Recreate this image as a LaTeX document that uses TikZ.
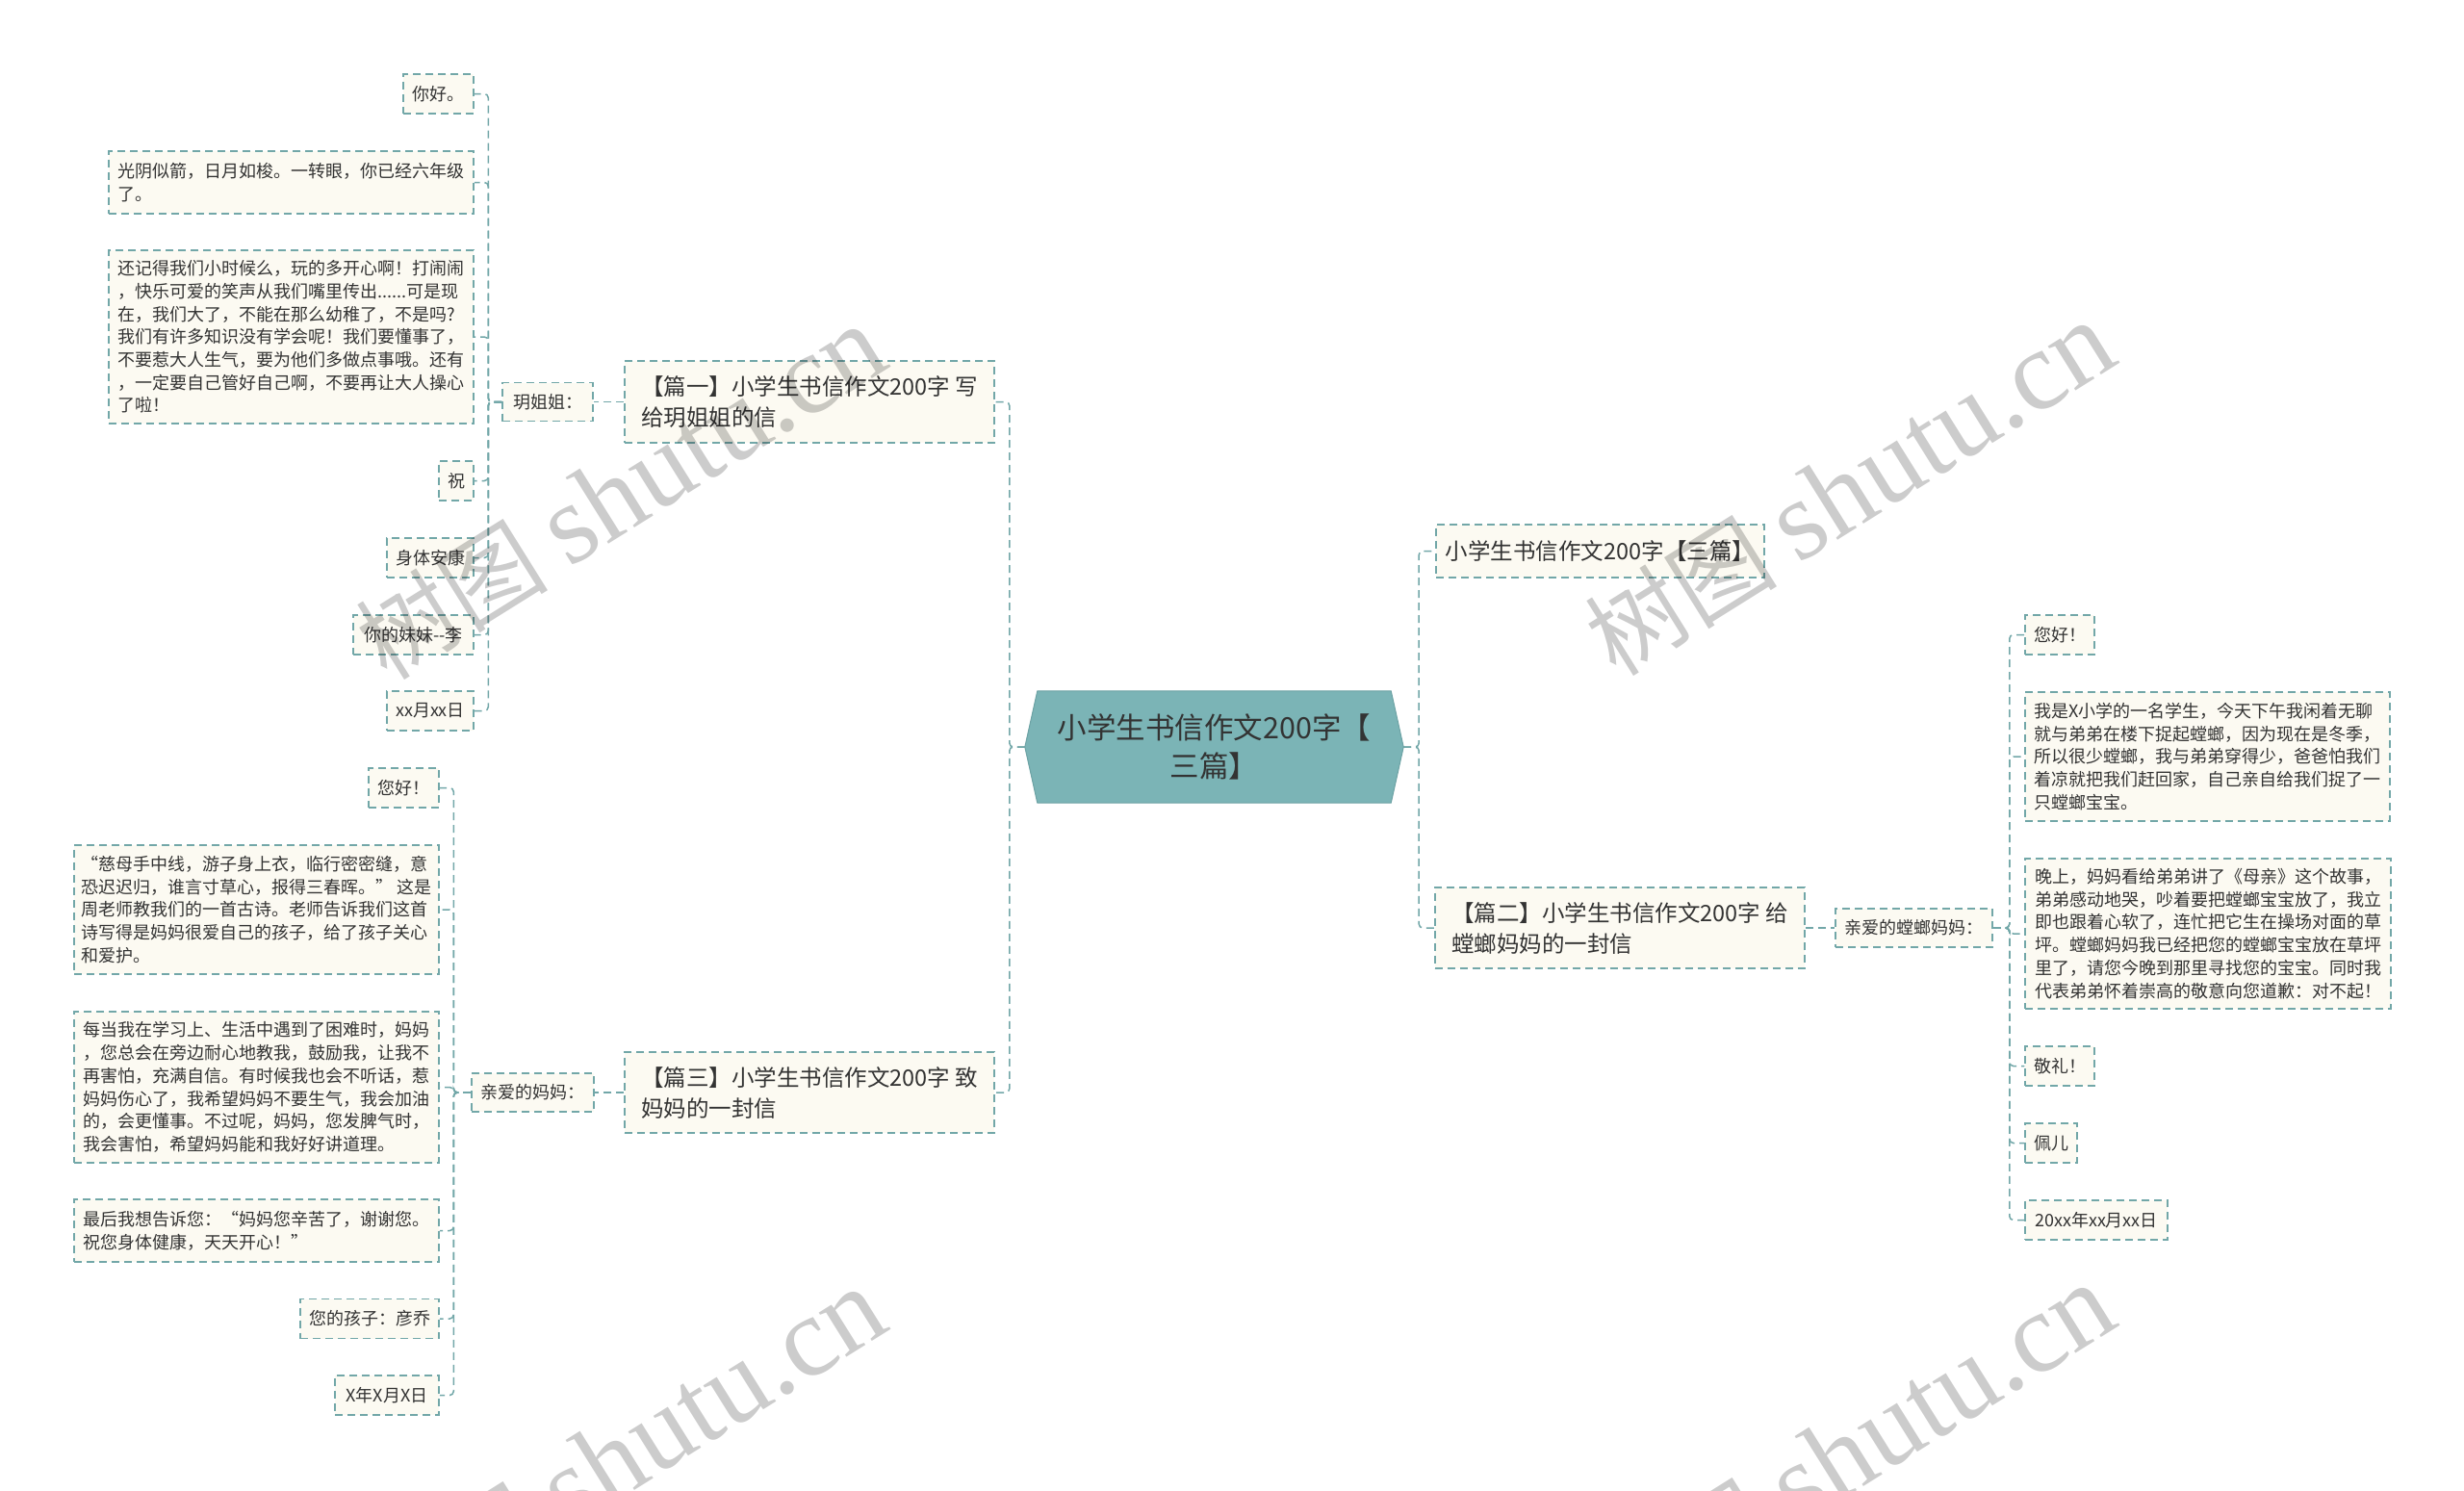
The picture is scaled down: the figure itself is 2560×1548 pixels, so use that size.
\documentclass[tikz,border=0pt]{standalone}
\usepackage{fontspec}
\setmainfont{Noto Sans CJK SC}
\newfontfamily\wmserif{Liberation Serif}
\usetikzlibrary{calc,backgrounds}
\definecolor{lnc}{HTML}{72A7A8}
\definecolor{boxfill}{HTML}{FCFAF2}
\definecolor{ctrfill}{HTML}{7BB4B6}
\definecolor{ctrline}{HTML}{6CA2A4}
\definecolor{txt}{HTML}{333333}
\tikzset{
  boxdash/.style={dash pattern=on 8pt off 5pt, line width=1.5pt},
  leaf/.style={draw=lnc, boxdash, fill=boxfill, text=txt,
    font=\fontsize{18pt}{23.7pt}\selectfont, align=left, inner sep=2pt,
    minimum height=41pt},
  topic/.style={draw=lnc, boxdash, fill=boxfill, text=txt,
    font=\fontsize{23.5pt}{32pt}\selectfont, align=left, inner sep=2pt},
  ctr/.style={text=txt, font=\fontsize{30.5pt}{40pt}\selectfont, align=center,
    minimum width=393pt, minimum height=116pt, inner sep=0pt},
  conn/.style={draw=lnc, boxdash, rounded corners=4pt},
  wm/.style={text=black, text opacity=0.2, font=\fontsize{100pt}{100pt}\selectfont, inner sep=0pt}
}
\newcommand{\wmtext}{树图 {\wmserif\fontsize{118pt}{118pt}\selectfont shutu.cn}}
\begin{document}
\begin{tikzpicture}[x=1pt,y=-1pt]
\useasboundingbox (0,0) rectangle (2560,1548);
% centre
\node[ctr] (c) at (1261.5,776) {小学生书信作文200字【\\三篇】};
% branch 1
\node[topic, minimum width=384pt, minimum height=85pt] (p1) at (841,417.5) {【篇一】小学生书信作文200字 写\\给玥姐姐的信};
\node[leaf, minimum width=94pt, minimum height=40pt] (n1) at (569,417.5) {玥姐姐：};
\node[leaf, minimum width=73pt] (n1a) at (455.5,97.5) {你好。};
\node[leaf, minimum width=379pt, minimum height=65pt] (n1b) at (302.5,189.5) {光阴似箭，日月如梭。一转眼，你已经六年级\\了。};
\node[leaf, minimum width=379pt, minimum height=180pt] (n1c) at (302.5,350) {还记得我们小时候么，玩的多开心啊！打闹闹\\，快乐可爱的笑声从我们嘴里传出......可是现\\在，我们大了，不能在那么幼稚了，不是吗?\\我们有许多知识没有学会呢！我们要懂事了，\\不要惹大人生气，要为他们多做点事哦。还有\\，一定要自己管好自己啊，不要再让大人操心\\了啦！};
\node[leaf, minimum width=36pt] (n1d) at (474,499.5) {祝};
\node[leaf, minimum width=90pt] (n1e) at (447,579.5) {身体安康};
\node[leaf, minimum width=125pt] (n1f) at (429.5,659.5) {你的妹妹{-}{-}李};
\node[leaf, minimum width=90pt] (n1g) at (447,738.5) {xx月xx日};
% branch 3
\node[topic, minimum width=384pt, minimum height=84pt] (p3) at (841,1135) {【篇三】小学生书信作文200字 致\\妈妈的一封信};
\node[leaf, minimum width=127pt, minimum height=40pt] (m3) at (553.5,1135) {亲爱的妈妈：};
\node[leaf, minimum width=73pt] (l3a) at (419.5,818.5) {您好！};
\node[leaf, minimum width=379pt, minimum height=134pt] (l3b) at (266.5,945) {“慈母手中线，游子身上衣，临行密密缝，意\\恐迟迟归，谁言寸草心，报得三春晖。” 这是\\周老师教我们的一首古诗。老师告诉我们这首\\诗写得是妈妈很爱自己的孩子，给了孩子关心\\和爱护。};
\node[leaf, minimum width=379pt, minimum height=157pt] (l3c) at (266.5,1129.5) {每当我在学习上、生活中遇到了困难时，妈妈\\，您总会在旁边耐心地教我，鼓励我，让我不\\再害怕，充满自信。有时候我也会不听话，惹\\妈妈伤心了，我希望妈妈不要生气，我会加油\\的，会更懂事。不过呢，妈妈，您发脾气时，\\我会害怕，希望妈妈能和我好好讲道理。};
\node[leaf, minimum width=379pt, minimum height=65pt] (l3d) at (266.5,1278.5) {最后我想告诉您：“妈妈您辛苦了，谢谢您。\\祝您身体健康，天天开心！”};
\node[leaf, minimum width=144pt] (l3e) at (384,1370) {您的孩子：彦乔};
\node[leaf, minimum width=108pt] (l3f) at (402,1449.5) {X年X月X日};
% right side
\node[topic, minimum width=341pt, minimum height=55pt] (r1) at (1662.5,572.5) {小学生书信作文200字【三篇】};
\node[topic, minimum width=384pt, minimum height=84pt] (r2) at (1683,964) {【篇二】小学生书信作文200字 给\\螳螂妈妈的一封信};
\node[leaf, minimum width=163pt, minimum height=40pt] (m2) at (1988.5,964) {亲爱的螳螂妈妈：};
\node[leaf, minimum width=72pt] (r2a) at (2140,659.5) {您好！};
\node[leaf, minimum width=379pt, minimum height=134pt] (r2b) at (2293.5,786) {我是X小学的一名学生，今天下午我闲着无聊\\就与弟弟在楼下捉起螳螂，因为现在是冬季，\\所以很少螳螂，我与弟弟穿得少，爸爸怕我们\\着凉就把我们赶回家，自己亲自给我们捉了一\\只螳螂宝宝。};
\node[leaf, minimum width=380pt, minimum height=156pt] (r2c) at (2294,970) {晚上，妈妈看给弟弟讲了《母亲》这个故事，\\弟弟感动地哭，吵着要把螳螂宝宝放了，我立\\即也跟着心软了，连忙把它生在操场对面的草\\坪。螳螂妈妈我已经把您的螳螂宝宝放在草坪\\里了，请您今晚到那里寻找您的宝宝。同时我\\代表弟弟怀着崇高的敬意向您道歉：对不起！};
\node[leaf, minimum width=72pt] (r2d) at (2140,1107.5) {敬礼！};
\node[leaf, minimum width=54pt] (r2e) at (2131,1187.5) {佩儿};
\node[leaf, minimum width=148pt] (r2f) at (2178,1267.5) {20xx年xx月xx日};
% background: white, centre shape, connectors
\begin{scope}[on background layer]
\fill[white] (0,0) rectangle (2560,1548);
\filldraw[fill=ctrfill, draw=ctrline, line width=1pt]
  (c.west) -- ($(c.north west)+(13,0)$) -- ($(c.north east)+(-13,0)$) -- (c.east)
  -- ($(c.south east)+(-13,0)$) -- ($(c.south west)+(13,0)$) -- cycle;
\draw[conn] (c.west) -- ++(-16,0) |- (p1.east);
\draw[conn] (c.west) -- ++(-16,0) |- (p3.east);
\draw[conn] (c.east) -- ++(16,0) |- (r1.west);
\draw[conn] (c.east) -- ++(16,0) |- (r2.west);
\draw[conn] (p1.west) -- (n1.east);
\foreach \t in {n1a,n1b,n1c,n1d,n1e,n1f,n1g}
  \draw[conn] (n1.west) -- ++(-14,0) |- (\t.east);
\draw[conn] (p3.west) -- (m3.east);
\foreach \t in {l3a,l3b,l3c,l3d,l3e,l3f}
  \draw[conn] (m3.west) -- ++(-18,0) |- (\t.east);
\draw[conn] (r2.east) -- (m2.west);
\foreach \t in {r2a,r2b,r2c,r2d,r2e,r2f}
  \draw[conn] (m2.east) -- ++(17,0) |- (\t.west);
\end{scope}
% watermarks
\node[wm, rotate=32] (w1) at (645,512) {\wmtext};
\node[wm, rotate=32] (w2) at (1922,508) {\wmtext};
\node[wm, rotate=32] (w3) at (645,1512) {\wmtext};
\node[wm, rotate=32] (w4) at (1922,1508) {\wmtext};
\end{tikzpicture}
\end{document}
